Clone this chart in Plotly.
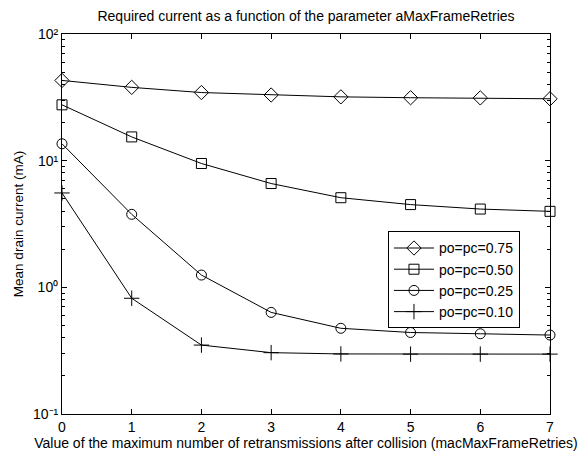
import plotly.graph_objects as go

# Retransmission count (macMaxFrameRetries)
retries = [0, 1, 2, 3, 4, 5, 6, 7]

# Mean drain current (mA) for each po=pc setting
current_075 = [43.0, 37.9, 34.5, 33.0, 31.9, 31.4, 31.3, 30.8]
current_050 = [27.6, 15.4, 9.5, 6.6, 5.1, 4.5, 4.15, 3.98]
current_025 = [13.6, 3.77, 1.25, 0.634, 0.475, 0.44, 0.43, 0.42]
current_010 = [5.56, 0.82, 0.35, 0.305, 0.298, 0.297, 0.297, 0.297]

series_names = ["po=pc=0.75", "po=pc=0.50", "po=pc=0.25", "po=pc=0.10"]
series_values = [current_075, current_050, current_025, current_010]
series_symbols = ["diamond-open", "square-open", "circle-open", "cross-thin-open"]
series_sizes = [11, 10, 10, 11]

decades = [0.1, 1, 10, 100]
y_tick_text = ["10⁻¹", "10⁰", "10¹", "10²"]
minor_vals = [d * k for d in decades[:-1] for k in range(2, 10)]

font_family = "Liberation Sans, Arial, sans-serif"

fig = go.Figure()
for name, vals, sym, sz in zip(series_names, series_values, series_symbols, series_sizes):
    fig.add_trace(go.Scatter(
        x=retries, y=vals, name=name, mode="lines+markers",
        line=dict(color="black", width=1),
        marker=dict(symbol=sym, size=sz, color="black",
                    line=dict(color="black", width=1)),
        cliponaxis=False,
    ))

fig.update_layout(
    width=587, height=459,
    margin=dict(l=62, r=37, t=34, b=40),
    paper_bgcolor="white", plot_bgcolor="white",
    font=dict(family=font_family, size=14, color="black"),
    title=dict(text="Required current as a function of the parameter aMaxFrameRetries",
               xref="paper", x=0.5, xanchor="center", y=0.966, yanchor="middle",
               font=dict(size=14)),
    showlegend=True,
    legend=dict(x=0.668, y=0.4805, xanchor="left", yanchor="top",
                bordercolor="black", borderwidth=1, bgcolor="white",
                font=dict(size=14), tracegroupgap=0, itemwidth=40),
)

fig.update_xaxes(
    range=[0, 7], tickmode="array", tickvals=retries,
    ticks="inside", ticklen=5, tickcolor="black",
    tickfont=dict(size=14),
    showline=True, linecolor="black", linewidth=1, mirror="ticks",
    showgrid=False, zeroline=False,
    title=dict(text="Value of the maximum number of retransmissions after collision (macMaxFrameRetries)",
               font=dict(size=14), standoff=2),
)

fig.update_yaxes(
    type="log", range=[-1, 2],
    tickmode="array", tickvals=decades, ticktext=y_tick_text,
    ticks="inside", ticklen=5, tickcolor="black",
    tickfont=dict(size=14),
    minor=dict(tickmode="array", tickvals=minor_vals,
               ticks="inside", ticklen=3, tickcolor="black", showgrid=False),
    showline=True, linecolor="black", linewidth=1, mirror="ticks",
    showgrid=False, zeroline=False,
    title=dict(text="Mean drain current (mA)", font=dict(size=13.5), standoff=6),
)

fig.write_html("out.html")
